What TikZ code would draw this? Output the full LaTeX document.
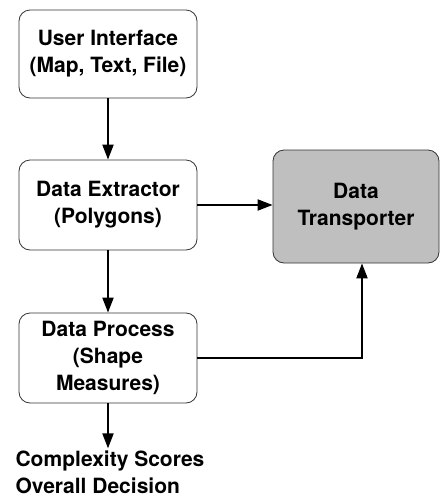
\documentclass[tikz,border=0pt]{standalone}
\usepackage{fontspec}
\setmainfont{TeX Gyre Heros}
\usepackage{tikz}
\usetikzlibrary{arrows.meta}
\usetikzlibrary{calc}

\tikzset{
  block/.style={draw=black!80, line width=0.8pt, rounded corners=11pt,
    minimum width=178pt, align=center, font=\fontsize{21}{27}\selectfont\bfseries},
  flow/.style={line width=2pt, -{Triangle[length=15pt,width=11pt]}}
}

\begin{document}
\begin{tikzpicture}[x=1pt,y=-1pt]
\useasboundingbox (0,0) rectangle (440,499);
% the chain of processing steps
\node[block, minimum height=88pt] (ui) at (108,54) {User Interface\\(Map, Text, File)};
\node[block, minimum height=90pt] (extr) at (108,205) {Data Extractor\\(Polygons)};
\node[block, minimum height=90pt] (proc) at (108,358) {Data Process\\(Shape\\Measures)};
\node[block, fill=black!25, minimum width=166pt, minimum height=113pt] (trans) at (356,206.5) {Data\\Transporter};
\node[align=left, font=\fontsize{21}{27}\selectfont\bfseries, inner sep=2pt] (out) at (110,472) {Complexity Scores\\Overall Decision};
% connectors
\draw[flow] (ui) -- (extr);
\draw[flow] (extr) -- (proc);
\draw[flow] (extr.east) -- (extr.east -| trans.west);
\draw[flow] (proc.east) -| ($(trans.south)+(6,0)$);
\draw[flow] (proc.south) -- (proc.south |- out.north);
\end{tikzpicture}
\end{document}
